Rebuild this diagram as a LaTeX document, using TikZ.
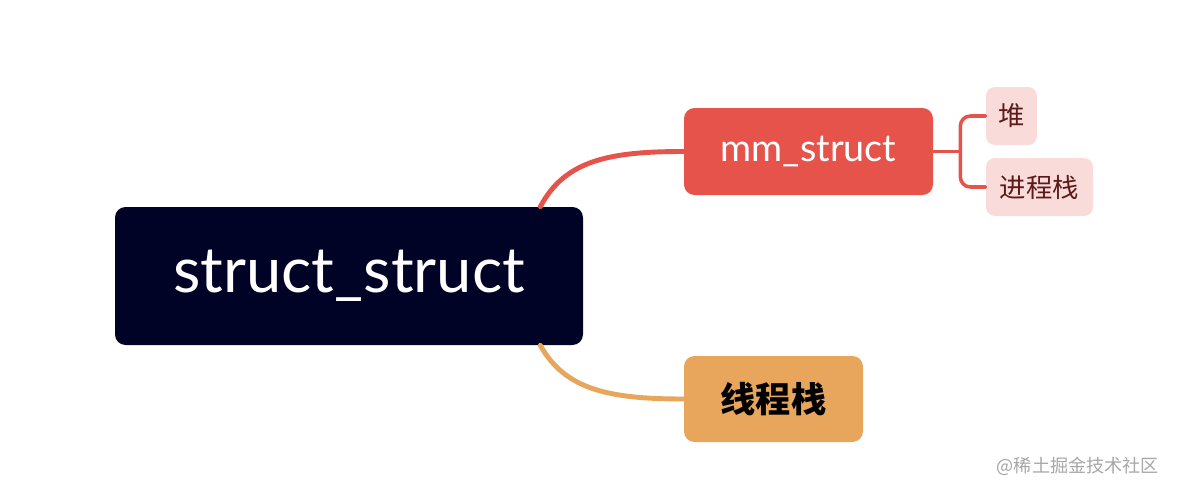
\documentclass[tikz,border=0pt]{standalone}
\usepackage{fontspec}
\setmainfont{Lato}
\newfontfamily\cjk{Noto Sans CJK SC}
\usetikzlibrary{calc,positioning}
\definecolor{RootFill}{HTML}{000226}
\definecolor{MmRed}{HTML}{E5534B}
\definecolor{ThreadOrange}{HTML}{E8A55C}
\definecolor{LeafPink}{HTML}{F9DCDA}
\definecolor{LeafText}{HTML}{5C1A1A}
\definecolor{MarkGray}{HTML}{A6A6A6}

\begin{document}
\begin{tikzpicture}[x=1cm,y=1cm, line cap=round, line join=round,
  topic/.style={rounded corners=6pt, inner sep=0pt},
  leaf/.style={rounded corners=5pt, fill=LeafPink, inner sep=0pt, minimum height=1.16cm,
               text=LeafText, font=\cjk\fontsize{15}{17}\selectfont},
  branch/.style={line width=2.8pt}]

% frame
\useasboundingbox (0,0) rectangle (23.6,-9.84);

% central topic
\node[topic, fill=RootFill, minimum width=9.36cm, minimum height=2.76cm,
      text=white, font=\fontsize{36}{40}\selectfont] (root) at (6.98,-5.52) {struct\_struct};

% main topics
\node[topic, fill=MmRed, minimum width=4.98cm, minimum height=1.74cm,
      text=white, font=\fontsize{21.5}{24}\selectfont] (mm) at (16.17,-3.03) {mm\_struct};
\node[topic, fill=ThreadOrange, minimum width=3.58cm, minimum height=1.72cm,
      text=black, font=\cjk\bfseries\fontsize{20}{23}\selectfont] (thread) at (15.47,-7.98) {线程栈};

% sub topics
\node[leaf, minimum width=1.02cm] (heap) at (20.23,-2.32) {堆};
\node[leaf, minimum width=2.14cm] (pstack) at (20.79,-3.74) {进程栈};

% branches from the root
\draw[branch, MmRed] ([xshift=-0.86cm]root.north east) .. controls (11.3,-3.2) and (12.2,-3.03) .. (mm.west);
\draw[branch, ThreadOrange] ([xshift=-0.86cm]root.south east) .. controls (11.3,-7.8) and (12.2,-7.98) .. (thread.west);

% fork to the sub topics
\draw[MmRed, line width=2pt] (mm.east) -- ++(0.54,0) coordinate (fork);
\draw[MmRed, line width=2pt, rounded corners=0.2cm] (heap.west) -| (fork) |- (pstack.west);

% watermark
\node[anchor=east, text=MarkGray, font=\cjk\fontsize{10.3}{12}\selectfont] (mark) at (23.3,-9.32) {@稀土掘金技术社区};

\end{tikzpicture}
\end{document}
